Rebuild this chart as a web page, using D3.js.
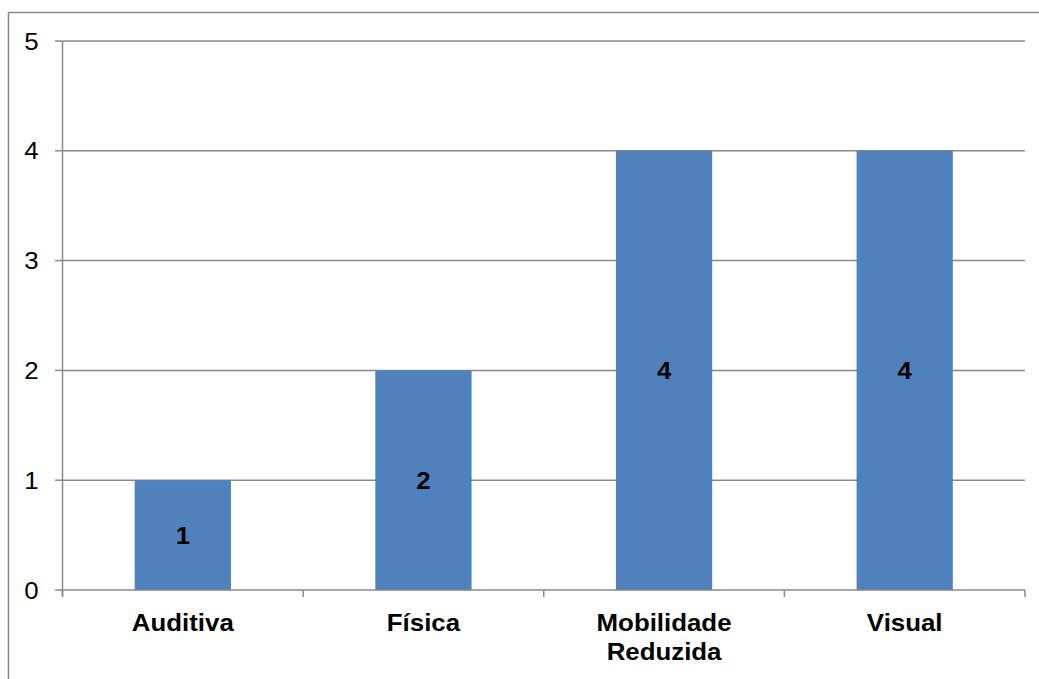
<!DOCTYPE html>
<html>
<head>
<meta charset="utf-8">
<script src="https://cdn.jsdelivr.net/npm/d3@7"></script>
<style>
  html, body { margin: 0; padding: 0; background: #fff; }
  svg { display: block; }
  text { font-family: Arial, "Liberation Sans", sans-serif; fill: #000; }
</style>
</head>
<body>
<svg id="chart" width="1039" height="679"></svg>
<script>
// Categories and counts
const categories = [["Auditiva"], ["Física"], ["Mobilidade", "Reduzida"], ["Visual"]];
const values = [1, 2, 4, 4];
const yTicks = [0, 1, 2, 3, 4, 5];

const W = 1039, H = 679;
const plot = { left: 62.5, right: 1025, top: 41, bottom: 590 };
const gridColor = "#898989";
const barColor = "#4F81BD";
const fontSize = 23.5;
const stretch = 1.1; // glyphs are drawn slightly wide

const svg = d3.select("#chart");

// outer frame, open on the right and bottom edges
svg.append("path")
  .attr("d", `M8.5,${H + 2} V12.5 H${W + 2}`)
  .attr("fill", "none")
  .attr("stroke", gridColor)
  .attr("stroke-width", 1.5);

const keys = categories.map(c => c.join(" "));
const x = d3.scaleBand().domain(keys).range([plot.left, plot.right]).paddingInner(0).paddingOuter(0);
const y = d3.scaleLinear().domain([0, 5]).range([plot.bottom, plot.top]);

// horizontal gridlines
svg.append("g")
  .selectAll("line")
  .data(yTicks.filter(t => t > 0))
  .join("line")
  .attr("x1", plot.left).attr("x2", plot.right)
  .attr("y1", d => y(d)).attr("y2", d => y(d))
  .attr("stroke", gridColor).attr("stroke-width", 1.5);

// bars
const bw = x.bandwidth() * 0.4;
svg.append("g")
  .selectAll("rect")
  .data(values)
  .join("rect")
  .attr("x", (d, i) => x(keys[i]) + (x.bandwidth() - bw) / 2)
  .attr("width", bw)
  .attr("y", d => y(d))
  .attr("height", d => y(0) - y(d))
  .attr("fill", barColor);

// y axis with ticks
const yAxis = svg.append("g");
yAxis.append("line")
  .attr("x1", plot.left).attr("x2", plot.left)
  .attr("y1", plot.top).attr("y2", plot.bottom + 7)
  .attr("stroke", gridColor).attr("stroke-width", 1.5);
yAxis.selectAll("line.tick")
  .data(yTicks)
  .join("line")
  .attr("class", "tick")
  .attr("x1", plot.left - 7.5).attr("x2", plot.left)
  .attr("y1", d => y(d)).attr("y2", d => y(d))
  .attr("stroke", gridColor).attr("stroke-width", 1.5);
yAxis.selectAll("text")
  .data(yTicks)
  .join("text")
  .attr("transform", d => `translate(38.5,${y(d) + 8.5}) scale(${stretch},1)`)
  .attr("text-anchor", "end")
  .style("font-size", fontSize + "px")
  .text(d => d);

// x axis with boundary ticks
const xAxis = svg.append("g");
xAxis.append("line")
  .attr("x1", plot.left).attr("x2", plot.right)
  .attr("y1", plot.bottom).attr("y2", plot.bottom)
  .attr("stroke", gridColor).attr("stroke-width", 1.5);
const bounds = keys.map(k => x(k)).concat([plot.right]);
xAxis.selectAll("line.tick")
  .data(bounds)
  .join("line")
  .attr("class", "tick")
  .attr("x1", d => d).attr("x2", d => d)
  .attr("y1", plot.bottom).attr("y2", plot.bottom + 7)
  .attr("stroke", gridColor).attr("stroke-width", 1.5);

// category labels
const cat = xAxis.selectAll("g.cat")
  .data(categories)
  .join("g")
  .attr("class", "cat");
cat.each(function (lines, i) {
  const cx = x(keys[i]) + x.bandwidth() / 2;
  d3.select(this).selectAll("text")
    .data(lines)
    .join("text")
    .attr("transform", (l, j) => `translate(${cx},${631 + j * 29}) scale(${stretch},1)`)
    .attr("text-anchor", "middle")
    .style("font-size", fontSize + "px")
    .style("font-weight", "bold")
    .text(l => l);
});

// value labels centred in each bar
svg.append("g")
  .selectAll("text")
  .data(values)
  .join("text")
  .attr("transform", (d, i) => `translate(${x(keys[i]) + x.bandwidth() / 2},${(y(d) + y(0)) / 2 + 8.5}) scale(${stretch},1)`)
  .attr("text-anchor", "middle")
  .style("font-size", fontSize + "px")
  .style("font-weight", "bold")
  .text(d => d);
</script>
</body>
</html>
